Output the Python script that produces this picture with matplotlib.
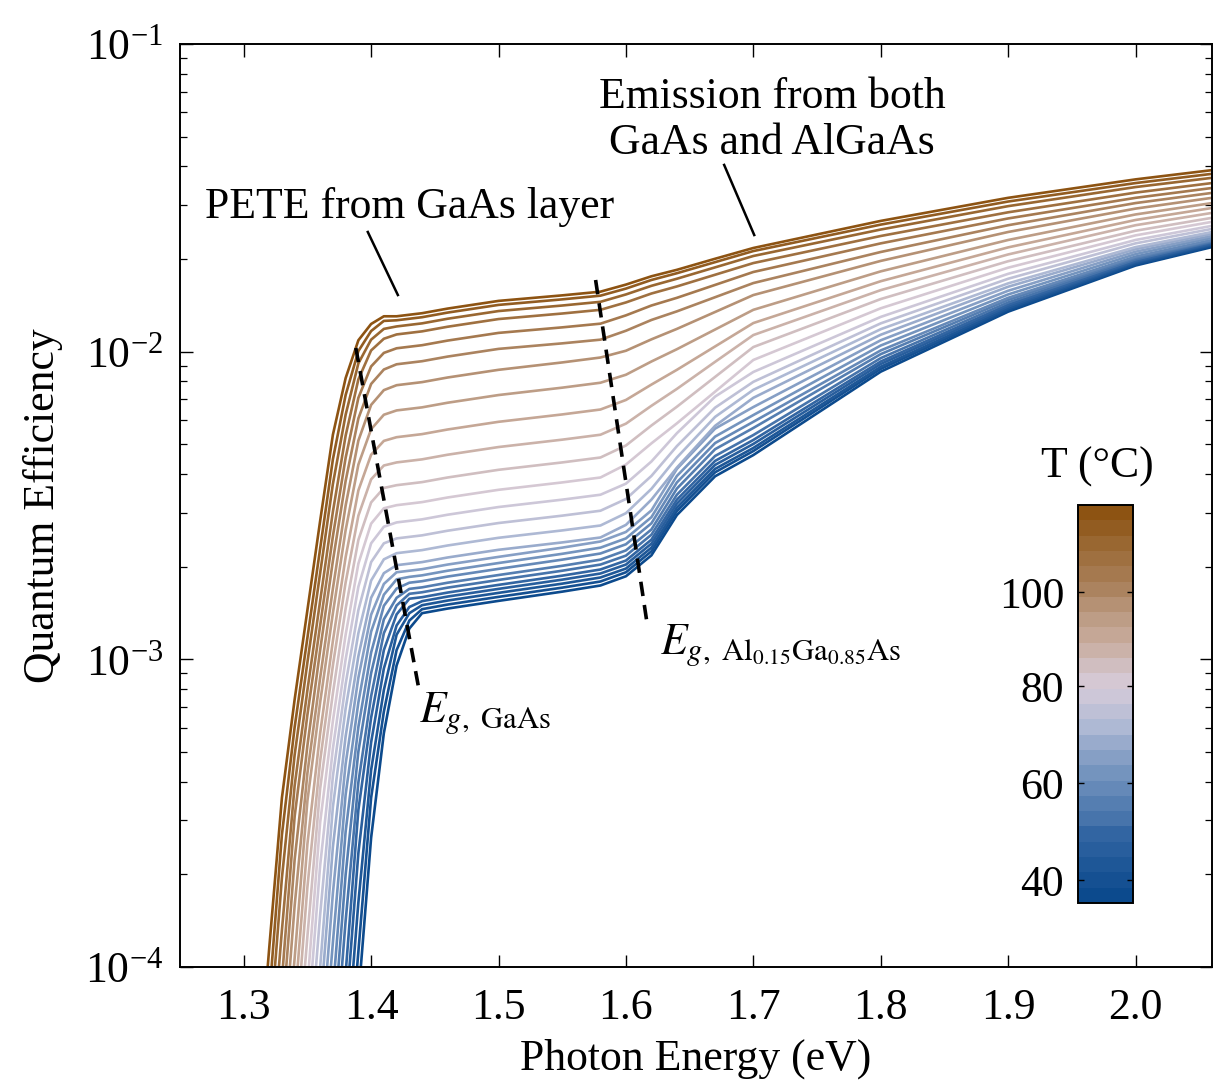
import numpy as np
import matplotlib
matplotlib.use("Agg")
import matplotlib.pyplot as plt
import matplotlib.cm as cm
from matplotlib.colors import LinearSegmentedColormap, ListedColormap, BoundaryNorm, Normalize

plt.rcParams['font.family'] = ['Liberation Serif', 'DejaVu Serif']
plt.rcParams['mathtext.fontset'] = 'stix'

# photon energy grid (eV) and temperatures (deg C) of the curves
energy_ev = [1.31, 1.32, 1.33, 1.34, 1.35, 1.36, 1.37, 1.38, 1.39, 1.40, 1.41, 1.42, 1.43, 1.44,
             1.46, 1.50, 1.55, 1.58, 1.60, 1.62, 1.64, 1.67, 1.70, 1.80, 1.90, 2.00, 2.06]
temps_c = [37, 40, 43, 46, 49, 53, 56, 59, 62, 65, 68, 72, 75, 78, 81, 84, 88, 91, 94, 97,
           101, 104, 107, 110, 113, 116]

# log10(QE), one row per temperature, coldest first
log_qe = [
    [-4.5, -4.5, -4.5, -4.5, -4.5, -4.5, -4.5, -4.5, -4.10, -3.58, -3.24, -3.02, -2.90, -2.85, -2.835, -2.810, -2.780, -2.760, -2.730, -2.662, -2.531, -2.405, -2.336, -2.065, -1.870, -1.720, -1.660],
    [-4.5, -4.5, -4.5, -4.5, -4.5, -4.5, -4.5, -4.46, -3.95, -3.45, -3.17, -2.97, -2.874, -2.837, -2.822, -2.797, -2.767, -2.747, -2.717, -2.649, -2.518, -2.392, -2.323, -2.056, -1.864, -1.716, -1.656],
    [-4.5, -4.5, -4.5, -4.5, -4.5, -4.5, -4.5, -4.31, -3.79, -3.36, -3.10, -2.92, -2.85, -2.824, -2.809, -2.784, -2.754, -2.734, -2.705, -2.637, -2.507, -2.381, -2.313, -2.049, -1.859, -1.712, -1.653],
    [-4.5, -4.5, -4.5, -4.5, -4.5, -4.5, -4.5, -4.16, -3.63, -3.27, -3.03, -2.89, -2.83, -2.811, -2.796, -2.771, -2.741, -2.721, -2.692, -2.624, -2.494, -2.368, -2.300, -2.040, -1.853, -1.708, -1.650],
    [-4.5, -4.5, -4.5, -4.5, -4.5, -4.5, -4.5, -4.02, -3.49, -3.19, -2.97, -2.854, -2.803, -2.798, -2.783, -2.758, -2.728, -2.708, -2.679, -2.611, -2.481, -2.355, -2.287, -2.032, -1.847, -1.705, -1.647],
    [-4.5, -4.5, -4.5, -4.5, -4.5, -4.5, -4.37, -3.85, -3.40, -3.12, -2.915, -2.825, -2.787, -2.782, -2.767, -2.742, -2.712, -2.692, -2.663, -2.595, -2.465, -2.339, -2.271, -2.021, -1.840, -1.700, -1.643],
    [-4.5, -4.5, -4.5, -4.5, -4.5, -4.5, -4.23, -3.70, -3.30, -3.045, -2.87, -2.80, -2.771, -2.766, -2.751, -2.726, -2.696, -2.676, -2.646, -2.578, -2.445, -2.317, -2.248, -2.008, -1.832, -1.695, -1.640],
    [-4.5, -4.5, -4.5, -4.5, -4.5, -4.5, -4.08, -3.56, -3.22, -2.978, -2.826, -2.77, -2.751, -2.746, -2.731, -2.706, -2.676, -2.656, -2.626, -2.558, -2.425, -2.297, -2.228, -1.996, -1.825, -1.691, -1.637],
    [-4.5, -4.5, -4.5, -4.5, -4.5, -4.43, -3.92, -3.44, -3.14, -2.91, -2.79, -2.74, -2.732, -2.727, -2.712, -2.687, -2.657, -2.637, -2.607, -2.538, -2.404, -2.276, -2.206, -1.980, -1.814, -1.683, -1.630],
    [-4.5, -4.5, -4.5, -4.5, -4.5, -4.29, -3.76, -3.34, -3.06, -2.855, -2.755, -2.717, -2.712, -2.707, -2.692, -2.667, -2.637, -2.617, -2.586, -2.516, -2.381, -2.250, -2.180, -1.963, -1.802, -1.675, -1.624],
    [-4.5, -4.5, -4.5, -4.5, -4.5, -4.14, -3.61, -3.25, -2.99, -2.80, -2.72, -2.694, -2.689, -2.684, -2.669, -2.644, -2.620, -2.604, -2.563, -2.481, -2.377, -2.241, -2.150, -1.945, -1.789, -1.667, -1.617],
    [-4.5, -4.5, -4.5, -4.5, -4.5, -4.00, -3.48, -3.16, -2.915, -2.744, -2.675, -2.655, -2.650, -2.645, -2.630, -2.605, -2.581, -2.565, -2.525, -2.446, -2.344, -2.212, -2.124, -1.927, -1.778, -1.660, -1.611],
    [-4.5, -4.5, -4.5, -4.5, -4.35, -3.83, -3.38, -3.08, -2.84, -2.684, -2.623, -2.607, -2.602, -2.597, -2.582, -2.557, -2.533, -2.517, -2.479, -2.404, -2.307, -2.182, -2.098, -1.908, -1.763, -1.648, -1.601],
    [-4.5, -4.5, -4.5, -4.5, -4.20, -3.67, -3.29, -3.00, -2.764, -2.623, -2.569, -2.555, -2.550, -2.545, -2.530, -2.505, -2.481, -2.465, -2.429, -2.357, -2.265, -2.146, -2.066, -1.887, -1.747, -1.637, -1.591],
    [-4.5, -4.5, -4.5, -4.5, -4.06, -3.53, -3.20, -2.92, -2.689, -2.559, -2.509, -2.499, -2.494, -2.489, -2.474, -2.449, -2.425, -2.409, -2.367, -2.298, -2.233, -2.130, -2.027, -1.859, -1.727, -1.622, -1.578],
    [-4.5, -4.5, -4.5, -4.41, -3.90, -3.42, -3.11, -2.835, -2.612, -2.49, -2.443, -2.434, -2.429, -2.424, -2.409, -2.384, -2.360, -2.344, -2.305, -2.240, -2.179, -2.082, -1.985, -1.829, -1.706, -1.607, -1.565],
    [-4.5, -4.5, -4.5, -4.27, -3.74, -3.33, -3.02, -2.75, -2.533, -2.415, -2.37, -2.36, -2.355, -2.35, -2.335, -2.310, -2.286, -2.270, -2.234, -2.176, -2.121, -2.033, -1.946, -1.800, -1.684, -1.589, -1.549],
    [-4.5, -4.5, -4.5, -4.12, -3.60, -3.24, -2.94, -2.668, -2.451, -2.335, -2.29, -2.278, -2.273, -2.268, -2.253, -2.228, -2.204, -2.188, -2.157, -2.107, -2.059, -1.983, -1.907, -1.771, -1.661, -1.572, -1.533],
    [-4.5, -4.5, -4.47, -3.97, -3.46, -3.14, -2.85, -2.58, -2.367, -2.252, -2.205, -2.191, -2.186, -2.181, -2.166, -2.141, -2.117, -2.101, -2.075, -2.032, -1.992, -1.928, -1.864, -1.739, -1.637, -1.554, -1.517],
    [-4.5, -4.5, -4.33, -3.80, -3.37, -3.06, -2.77, -2.50, -2.289, -2.173, -2.125, -2.109, -2.104, -2.099, -2.084, -2.059, -2.035, -2.019, -1.997, -1.960, -1.926, -1.871, -1.816, -1.705, -1.611, -1.535, -1.500],
    [-4.5, -4.5, -4.18, -3.65, -3.28, -2.97, -2.68, -2.42, -2.217, -2.105, -2.058, -2.041, -2.036, -2.031, -2.016, -1.991, -1.973, -1.961, -1.932, -1.897, -1.869, -1.823, -1.777, -1.676, -1.589, -1.517, -1.484],
    [-4.5, -4.5, -4.04, -3.51, -3.18, -2.89, -2.60, -2.345, -2.15, -2.048, -2.004, -1.989, -1.984, -1.979, -1.964, -1.939, -1.921, -1.909, -1.882, -1.850, -1.825, -1.783, -1.741, -1.648, -1.567, -1.500, -1.468],
    [-4.5, -4.39, -3.88, -3.41, -3.10, -2.81, -2.52, -2.273, -2.09, -1.996, -1.958, -1.944, -1.939, -1.934, -1.919, -1.894, -1.876, -1.864, -1.840, -1.811, -1.788, -1.750, -1.712, -1.624, -1.547, -1.483, -1.452],
    [-4.5, -4.24, -3.71, -3.31, -3.01, -2.72, -2.43, -2.205, -2.038, -1.961, -1.926, -1.918, -1.913, -1.908, -1.893, -1.868, -1.850, -1.838, -1.814, -1.786, -1.763, -1.726, -1.689, -1.603, -1.527, -1.465, -1.435],
    [-4.5, -4.10, -3.57, -3.22, -2.93, -2.64, -2.35, -2.141, -1.998, -1.933, -1.90, -1.898, -1.893, -1.888, -1.873, -1.848, -1.830, -1.818, -1.795, -1.767, -1.745, -1.709, -1.673, -1.587, -1.512, -1.452, -1.422],
    [-4.45, -3.94, -3.45, -3.13, -2.84, -2.55, -2.27, -2.086, -1.963, -1.91, -1.885, -1.885, -1.88, -1.875, -1.86, -1.835, -1.817, -1.805, -1.782, -1.755, -1.734, -1.698, -1.663, -1.575, -1.500, -1.440, -1.410],
]

x_ticks = [1.3, 1.4, 1.5, 1.6, 1.7, 1.8, 1.9, 2.0]
cbar_ticks = [40, 60, 80, 100]
t_range = (35.7, 117.4)

# dashed band-gap markers and leader lines (energy, QE)
gaas_marker = ([1.388, 1.4376], [0.01028, 7.96e-4])
algaas_marker = ([1.5762, 1.6164], [0.0171, 1.325e-3])
pete_leader = ([1.3974, 1.4210], [0.02449, 0.01528])
emission_leader = ([1.6771, 1.7007], [0.04045, 0.02394])

FS = 31.5
W, H = 1214, 1090

cmap = LinearSegmentedColormap.from_list("bluebrown", [
    (0.00, "#08478b"),
    (0.15, "#2e62a0"),
    (0.30, "#6a8dba"),
    (0.43, "#a9b6d3"),
    (0.54, "#d6cbd9"),
    (0.66, "#c9ad9f"),
    (0.79, "#ad8663"),
    (1.00, "#8a4f0c"),
])
norm = Normalize(*t_range)

fig = plt.figure(figsize=(W / 100, H / 100), dpi=100)
ax = fig.add_axes([180 / W, 123 / H, 1032 / W, 923 / H])

for t, row in zip(temps_c, log_qe):
    ax.plot(energy_ev, 10 ** np.array(row), color=cmap(norm(t)), lw=1.9,
            solid_capstyle="round", solid_joinstyle="round")

ax.set_yscale("log")
ax.set_xlim(1.25, 2.06)
ax.set_ylim(1e-4, 1e-1)
ax.set_xticks(x_ticks)
ax.set_xticklabels([f"{v:.1f}" for v in x_ticks])
ax.tick_params(which="major", direction="in", top=True, right=True, length=9, width=1.0,
               labelsize=FS)
ax.tick_params(which="minor", direction="in", top=True, right=True, length=5, width=0.9)
ax.tick_params(axis="x", which="major", pad=15)
ax.tick_params(axis="y", which="major", pad=12)
for s in ax.spines.values():
    s.set_linewidth(1.4)
ax.set_xlabel("Photon Energy (eV)", fontsize=FS, labelpad=8)
ax.set_ylabel("Quantum Efficiency", fontsize=FS, labelpad=16)

# dashed band-gap lines
ax.plot(*gaas_marker, color="black", lw=2.6, ls=(0, (4, 2.5)))
ax.plot(*algaas_marker, color="black", lw=2.6, ls=(0, (4, 2.5)))
ax.plot(*pete_leader, color="black", lw=1.8)
ax.plot(*emission_leader, color="black", lw=1.8)

ax.text(1.2697, 0.0295, "PETE from GaAs layer", fontsize=FS, ha="left", va="center")
ax.text(1.7149, 0.0566, "Emission from both\nGaAs and AlGaAs", fontsize=FS,
        ha="center", va="center", linespacing=1.2)
ax.text(1.4375, 6.7e-4, r"$E_{g,\ \mathrm{GaAs}}$", fontsize=FS, ha="left", va="center")
ax.text(1.6267, 1.11e-3, r"$E_{g,\ \mathrm{Al_{0.15}Ga_{0.85}As}}$", fontsize=FS,
        ha="left", va="center")

# discrete colour bar inside the axes
mids = [(a + b) / 2 for a, b in zip(temps_c[:-1], temps_c[1:])]
bounds = [t_range[0]] + mids + [t_range[1]]
band_cmap = ListedColormap([cmap(norm(t)) for t in temps_c])
sm = cm.ScalarMappable(norm=BoundaryNorm(bounds, len(temps_c)), cmap=band_cmap)
cax = fig.add_axes([1078 / W, 187 / H, 55 / W, 398 / H])
cb = fig.colorbar(sm, cax=cax, ticks=cbar_ticks)
cb.outline.set_linewidth(1.4)
cax.yaxis.set_ticks_position("both")
cax.tick_params(axis="y", direction="in", length=4, width=1.0, labelleft=True,
                labelright=False, labelsize=FS, pad=10)
cax.minorticks_off()
fig.text(1097 / W, 1 - 467 / H, "T (°C)", fontsize=FS, ha="center", va="center")

fig.savefig("out.png", dpi=100)
